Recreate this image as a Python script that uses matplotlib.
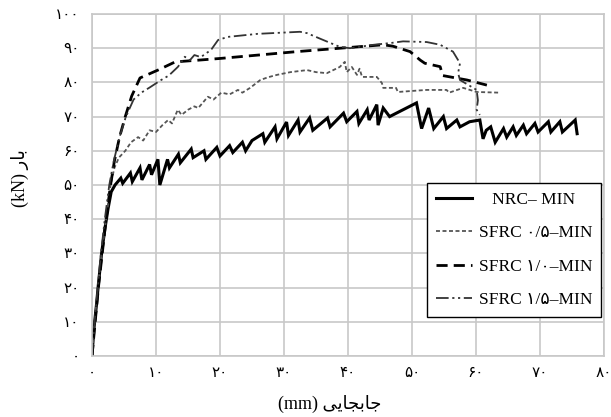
import matplotlib
matplotlib.use("Agg")
import matplotlib.pyplot as plt

# ---------------- data ----------------
nrc_x = [0, 0.3, 0.7, 1.0, 1.5, 2.0, 2.5, 3.0, 3.6, 4.5, 4.8, 6.0, 6.3, 7.5, 7.8, 9.0, 9.3, 10.3, 10.6,
         11.8, 12.1, 13.5, 13.8, 15.5, 15.8, 17.5, 17.8, 19.5, 20.0, 21.5, 22.0, 23.5, 24.0, 25.0,
         26.7, 27.0, 28.6, 28.9, 30.4, 30.7, 32.2, 32.5, 34.0, 34.5, 36.8, 37.2, 39.3, 39.8, 41.4, 41.7,
         43.0, 43.3, 44.5, 44.7, 45.5, 46.5, 50.7, 51.5, 52.6, 53.4, 54.9, 55.4, 57.0, 57.5, 59.0,
         60.6, 61.1, 61.6, 62.3, 63.0, 64.3, 64.8, 65.8, 66.3, 67.4, 67.9, 69.2, 69.7, 71.3, 71.7,
         73.1, 73.5, 75.5, 75.8]
nrc_y = [0, 8, 15, 21, 30, 37, 43, 48, 50, 52, 50.5, 53.5, 51, 55, 51.5, 56, 53, 57.5, 50,
         57.5, 55, 59, 56.5, 60.5, 58, 60, 57.5, 61, 58.5, 61.5, 59.5, 62.5, 60, 63,
         65, 62.5, 67, 63.5, 68.4, 64.5, 69, 65.5, 69.6, 66, 69.6, 67, 71, 68.5, 71.5, 68,
         72, 69, 73.5, 67.5, 72.5, 70, 74, 66.5, 72.5, 66.5, 70, 66.5, 69, 67, 68.5,
         69, 63.5, 66, 67, 62.5, 66.5, 64, 67, 64.5, 67.5, 65, 68, 65.5, 68.5, 65.5,
         68.5, 65.5, 69, 65]

s05_x = [0, 0.4, 0.9, 1.5, 2.2, 2.9, 3.5, 4.2, 5.2, 6.1, 7.2, 8.0, 9.0, 10.0, 11.0, 11.9, 12.5, 13.4,
         14.0, 15.0, 16.0, 16.6, 18.1, 19.0, 20.2, 21.5, 22.8, 23.5, 24.7, 26.3, 27.5, 28.9, 31.0,
         33.6, 35.0, 36.7, 38.7, 39.5, 39.8, 40.6, 41.4, 41.8, 42.2, 44.5, 45.3, 45.5, 47.5, 47.8,
         50.0, 52.3, 55.4, 55.8, 58.0, 60.1, 63.7]
s05_y = [0, 10, 20, 30, 40, 50, 55, 58, 60, 62.5, 64, 63, 66, 65.5, 67.5, 69, 68, 72,
         70.5, 72, 73, 72.5, 75.8, 75, 77, 76.5, 77.8, 77, 78.4, 80.7, 81.5, 82.2, 83,
         83.6, 83, 82.7, 84.5, 86, 83, 84.5, 82.2, 84, 81.6, 81.6, 79.8, 78.4, 78.4, 77.2,
         77.5, 77.8, 77.8, 77, 78.4, 77.2, 77]

s10_x = [0, 0.5, 1.0, 1.6, 2.2, 2.9, 3.5, 4.3, 5.2, 6.2, 7.5, 10.3, 13.0, 16.6, 20.0, 26.0, 32.0,
         38.8, 45.5, 47.0, 49.7, 51.3, 52.0, 54.4, 54.8, 58.6, 61.7]
s10_y = [0, 10, 20, 30, 40, 50, 57, 64, 70, 76, 81.3, 83.6, 86, 86.5, 87, 88, 89,
         90, 91, 90.6, 89, 86.5, 85.6, 84.6, 82, 80.7, 79.2]

s15_x = [0, 0.4, 0.9, 1.4, 2.0, 2.7, 3.4, 4.3, 5.3, 6.5, 7.7, 9.0, 10.8, 12.0, 13.4, 14.0, 14.5,
         15.3, 16.0, 17.0, 18.6, 19.7, 21.2, 25.9, 32.5, 33.6, 36.0, 38.7, 40.3, 44.0, 46.6,
         48.6, 52.3, 54.4, 56.4, 57.5, 57.2, 57.5, 60.1, 60.3, 60.1, 60.6]
s15_y = [0, 10, 20, 30, 40, 50, 57, 64, 70, 75, 77, 78.5, 80.7, 82, 84.5, 86, 87.5,
         86.5, 88, 87.4, 89.5, 92.4, 93.3, 94.2, 94.8, 94.4, 92.5, 90.4, 90, 91, 91.5,
         92, 91.8, 91, 89, 85.6, 82.7, 80.7, 77.8, 74.8, 72, 70.5]

series_labels = ["   NRC\u2013 MIN", "SFRC \u06f0/\u06f5\u2013MIN",
                 "SFRC \u06f1/\u06f0\u2013MIN", "SFRC \u06f1/\u06f5\u2013MIN"]

x_ticks = [0, 10, 20, 30, 40, 50, 60, 70, 80]
x_tick_labels = ["\u06f0", "\u06f1\u06f0", "\u06f2\u06f0", "\u06f3\u06f0", "\u06f4\u06f0",
                 "\u06f5\u06f0", "\u06f6\u06f0", "\u06f7\u06f0", "\u06f8\u06f0"]
y_ticks = [0, 10, 20, 30, 40, 50, 60, 70, 80, 90, 100]
y_tick_labels = ["\u06f0", "\u06f1\u06f0", "\u06f2\u06f0", "\u06f3\u06f0", "\u06f4\u06f0",
                 "\u06f5\u06f0", "\u06f6\u06f0", "\u06f7\u06f0", "\u06f8\u06f0", "\u06f9\u06f0",
                 "\u06f1\u06f0\u06f0"]

# Persian labels written in visual (shaped) order
x_label = "(mm) \ufbfd\ufbfe\ufe8e\ufea0\ufe91\ufe8e\ufe9f"   # جابجایی (mm)
y_label = "(kN) \ufead\ufe8e\ufe91"                            # بار (kN)

# ---------------- figure ----------------
W, H = 611, 417
fig = plt.figure(figsize=(W / 100, H / 100), dpi=100)
ax = fig.add_axes([92 / W, 1 - 356 / H, 512 / W, 342 / H])

fam = ["Liberation Serif", "DejaVu Sans"]

ax.plot(nrc_x, nrc_y, color="black", lw=2.2, label=series_labels[0], solid_joinstyle="miter")
ax.plot(s05_x, s05_y, color="#555555", lw=1.3, dashes=(2.2, 1.4), label=series_labels[1])
ax.plot(s10_x, s10_y, color="black", lw=2.0, dashes=(4, 2.2), label=series_labels[2])
ax.plot(s15_x, s15_y, color="#333333", lw=1.3, dashes=(7, 2, 1.2, 2, 1.2, 2), label=series_labels[3])

ax.set_xlim(0, 80)
ax.set_ylim(0, 100)
ax.set_xticks(x_ticks)
ax.set_xticklabels(x_tick_labels, family=fam, fontsize=11)
ax.set_yticks(y_ticks)
ax.set_yticklabels(y_tick_labels, family=fam, fontsize=11)
ax.tick_params(axis="both", length=0)
ax.tick_params(axis="x", pad=8)
ax.tick_params(axis="y", pad=9)

ax.grid(True, color="#c8c8c8", lw=1.2)
ax.set_axisbelow(True)
for sp in ax.spines.values():
    sp.set_color("#c8c8c8")
    sp.set_linewidth(1.2)

fig.text(330 / W, 1 - 404 / H, x_label, ha="center", va="center", family=fam, fontsize=13)
fig.text(20 / W, 1 - 178 / H, y_label, ha="center", va="center", rotation=90, family=fam, fontsize=13)

leg = ax.legend(loc="upper left", bbox_to_anchor=(0.654, 0.506), borderaxespad=0,
                prop={"family": fam, "size": 12.5}, frameon=True, fancybox=False,
                handlelength=2.1, labelspacing=1.0, borderpad=0.5, handletextpad=0.4)
leg.get_frame().set_edgecolor("black")
leg.get_frame().set_linewidth(1.0)
leg.get_frame().set_alpha(1)

fig.savefig("out.png", dpi=100)
